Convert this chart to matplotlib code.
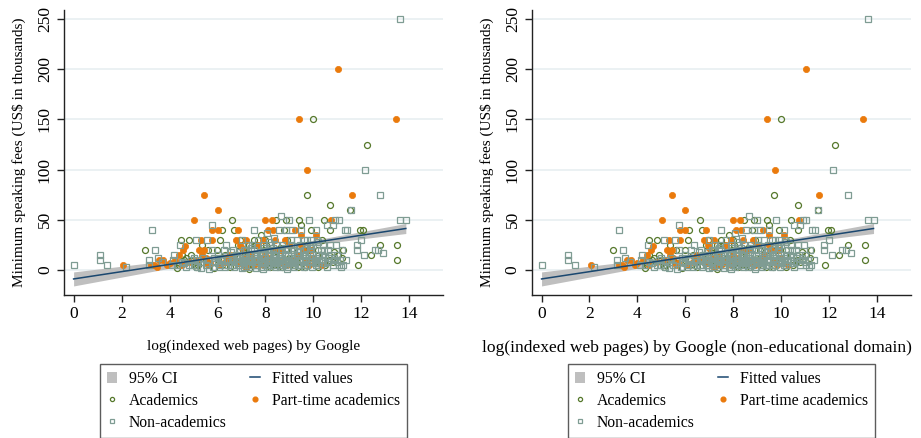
import numpy as np
import matplotlib
matplotlib.use("Agg")
import matplotlib.pyplot as plt
from matplotlib.lines import Line2D
from matplotlib.patches import Patch

plt.rcParams["font.family"] = ["Liberation Serif", "DejaVu Serif"]

# (log indexed pages, minimum fee in US$ thousands)
academics = [
    (2.99, 20), (4.3, 2), (4.48, 30), (4.5, 15), (4.6, 10), (4.8, 30), (4.9, 15), (5.05, 8),
    (5.2, 5), (5.37, 25), (5.5, 10), (5.6, 20), (5.87, 2), (5.98, 20), (6.1, 30), (6.17, 40),
    (6.3, 15), (6.45, 8), (6.6, 50), (6.69, 15), (6.7, 40), (6.85, 25), (6.95, 30), (7.0, 10),
    (7.08, 20), (7.15, 17), (7.25, 5), (7.33, 1), (7.4, 12), (7.5, 30), (7.6, 25), (7.7, 8),
    (7.8, 35), (7.85, 15), (8.0, 5), (8.04, 25), (8.1, 10), (8.2, 3), (8.3, 18), (8.45, 50),
    (8.5, 6), (8.6, 22), (8.79, 40), (8.86, 50), (8.9, 30), (9.0, 12), (9.1, 20), (9.2, 5),
    (9.3, 8), (9.4, 50), (9.5, 45), (9.55, 15), (9.65, 3), (9.71, 75), (9.75, 25), (9.86, 25),
    (9.89, 40), (10.0, 150), (10.1, 10), (10.2, 20), (10.35, 30), (10.42, 50), (10.5, 5),
    (10.64, 10), (10.7, 65), (10.7, 40), (10.85, 18), (11.04, 15), (11.25, 20), (11.53, 60),
    (11.84, 5), (11.95, 40), (12.06, 40), (12.25, 125), (12.39, 15), (12.78, 25), (13.5, 25),
    (13.5, 10),
    (4.4, 5), (4.7, 12), (5.1, 3), (5.6, 7), (6.0, 10), (6.2, 5), (6.5, 3), (6.8, 7),
    (7.0, 15), (7.2, 3), (7.3, 25), (7.55, 7), (7.75, 12), (7.95, 20), (8.0, 30), (8.15, 8),
    (8.35, 5), (8.55, 15), (8.7, 3), (8.95, 8), (9.1, 12), (9.35, 3), (9.5, 10), (9.7, 5),
    (9.8, 20), (9.95, 8), (10.2, 3), (10.4, 15), (10.8, 8), (11.2, 12),
]

part_time = [
    (2.07, 5), (3.23, 5), (3.37, 5), (3.46, 3), (3.57, 10), (3.74, 10), (3.88, 5), (4.0, 7),
    (4.23, 10), (4.4, 15), (4.55, 20), (4.66, 24), (5.03, 50), (5.24, 20), (5.31, 30), (5.35, 15),
    (5.45, 20), (5.45, 75), (5.5, 12), (5.6, 5), (5.77, 40), (5.79, 30), (6.0, 40), (6.0, 60),
    (6.3, 8), (6.5, 15), (6.6, 10), (6.77, 30), (6.87, 40), (6.95, 25), (7.0, 22), (7.1, 12),
    (7.19, 30), (7.3, 10), (7.5, 5), (7.7, 25), (7.91, 30), (7.98, 50), (8.0, 15), (8.12, 40),
    (8.27, 50), (8.33, 40), (8.4, 30), (8.5, 10), (8.6, 20), (8.82, 30), (8.9, 5), (9.0, 25),
    (9.24, 40), (9.3, 15), (9.4, 150), (9.49, 35), (9.5, 25), (9.58, 20), (9.72, 100), (9.82, 5),
    (9.9, 20), (10.11, 35), (10.73, 50), (11.04, 200), (11.59, 75), (13.43, 150),
    (4.5, 5), (4.8, 8), (5.1, 10), (5.7, 7), (6.1, 5), (6.4, 12), (6.9, 7), (7.2, 3),
    (7.4, 15), (7.6, 8), (7.9, 5), (8.2, 12), (8.45, 20), (8.7, 8), (9.1, 10), (9.7, 8),
    (10.0, 12), (10.3, 5),
]

non_academics = [
    (0.0, 5), (1.1, 15), (1.1, 10), (1.4, 5), (2.2, 3), (3.15, 10), (3.15, 5), (3.25, 40),
    (3.4, 20), (3.5, 12), (3.7, 8), (4.1, 5), (4.15, 10), (4.2, 15), (4.45, 25), (4.6, 7),
    (4.7, 3), (4.9, 10), (5.0, 5), (5.1, 30), (5.2, 10), (5.3, 2), (5.4, 12), (5.5, 5),
    (5.55, 30), (5.65, 1), (5.75, 45), (5.75, 20), (5.85, 12), (5.9, 8), (6.0, 15), (6.05, 3),
    (6.1, 5), (6.2, 10), (6.25, 20), (6.35, 25), (6.4, 10), (6.45, 5), (6.55, 18), (6.6, 5),
    (6.65, 20), (6.7, 10), (6.75, 15), (6.8, 8), (6.85, 5), (6.9, 12), (6.95, 18), (7.0, 30),
    (7.0, 2), (7.05, 8), (7.1, 3), (7.15, 12), (7.2, 20), (7.2, 15), (7.25, 25), (7.3, 5),
    (7.35, 10), (7.4, 15), (7.45, 25), (7.5, 40), (7.5, 20), (7.55, 10), (7.6, 2), (7.6, 5),
    (7.65, 12), (7.7, 30), (7.75, 18), (7.8, 8), (7.85, 15), (7.9, 1), (7.9, 25), (7.95, 22),
    (8.0, 12), (8.0, 5), (8.05, 37), (8.05, 10), (8.1, 5), (8.1, 20), (8.15, 28), (8.2, 15),
    (8.2, 25), (8.25, 20), (8.3, 8), (8.3, 12), (8.35, 32), (8.4, 3), (8.4, 20), (8.45, 12),
    (8.5, 25), (8.5, 5), (8.55, 40), (8.6, 7), (8.6, 15), (8.65, 54), (8.7, 18), (8.7, 10),
    (8.75, 10), (8.8, 22), (8.8, 5), (8.85, 40), (8.9, 1), (8.9, 20), (8.95, 15), (9.0, 50),
    (9.0, 10), (9.05, 30), (9.05, 25), (9.1, 40), (9.1, 8), (9.15, 5), (9.2, 20), (9.25, 12),
    (9.3, 30), (9.3, 18), (9.35, 5), (9.4, 10), (9.45, 25), (9.5, 40), (9.5, 5), (9.55, 15),
    (9.6, 30), (9.6, 20), (9.65, 10), (9.7, 22), (9.7, 12), (9.75, 30), (9.8, 50), (9.8, 8),
    (9.85, 18), (9.9, 30), (9.9, 22), (9.95, 12), (10.0, 25), (10.0, 15), (10.05, 7),
    (10.1, 40), (10.1, 5), (10.15, 30), (10.2, 15), (10.2, 28), (10.3, 20), (10.3, 10),
    (10.4, 10), (10.45, 20), (10.5, 13), (10.55, 45), (10.6, 20), (10.6, 8), (10.7, 25),
    (10.75, 15), (10.8, 45), (10.85, 12), (10.9, 50), (10.95, 25), (11.0, 15), (11.05, 50),
    (11.05, 5), (11.1, 10), (11.2, 20), (11.25, 5), (11.3, 40), (11.35, 10), (11.4, 40),
    (11.55, 60), (11.8, 25), (11.8, 20), (12.0, 30), (12.1, 15), (12.15, 100), (12.55, 20),
    (12.7, 20), (12.78, 75), (12.9, 17), (13.6, 250), (13.6, 50), (13.85, 50),
    (4.3, 5), (4.5, 8), (4.8, 5), (5.0, 12), (5.15, 3), (5.3, 8), (5.6, 10), (5.8, 3),
    (6.0, 7), (6.15, 12), (6.3, 3), (6.5, 8), (6.6, 12), (6.7, 3), (6.8, 15), (6.9, 5),
    (7.0, 10), (7.05, 15), (7.1, 7), (7.1, 20), (7.2, 5), (7.3, 12), (7.35, 3), (7.4, 22),
    (7.45, 8), (7.5, 12), (7.55, 15), (7.65, 5), (7.7, 10), (7.8, 3), (7.85, 7), (7.9, 18),
    (7.95, 12), (8.0, 8), (8.05, 3), (8.1, 15), (8.15, 7), (8.2, 10), (8.25, 5), (8.3, 22),
    (8.35, 10), (8.4, 15), (8.45, 7), (8.55, 10), (8.6, 3), (8.65, 12), (8.7, 25), (8.75, 5),
    (8.8, 15), (8.85, 8), (8.95, 3), (9.0, 7), (9.05, 12), (9.15, 10), (9.15, 22), (9.2, 3),
    (9.25, 7), (9.35, 15), (9.4, 5), (9.45, 10), (9.45, 18), (9.55, 8), (9.6, 3), (9.65, 15),
    (9.75, 5), (9.8, 12), (9.85, 25), (9.9, 8), (9.95, 3), (10.05, 10), (10.1, 12), (10.2, 5),
    (10.25, 8), (10.35, 15), (10.4, 25), (10.5, 7), (10.55, 3), (10.65, 12), (10.8, 5),
    (10.9, 10), (11.0, 8), (11.15, 3),
]

# linear fit on the full sample and its 95% band (half-widths at x=0 and at the mean)
fit_intercept = -9.0
fit_slope = 3.63
fit_x_mean = 8.2
ci_half_at_mean = 1.8
ci_half_at_zero = 7.0

x_labels = [
    "log(indexed web pages) by Google",
    "log(indexed web pages) by Google (non-educational domain)",
]
x_label_sizes = [11, 12.6]
x_label_centers = [0.5, 0.436]
y_label = "Minimum speaking fees (US$ in thousands)"
x_ticks = [0, 2, 4, 6, 8, 10, 12, 14]
y_ticks = [0, 50, 100, 150, 200, 250]

c_acad = "#55782b"
c_part = "#ea7a0c"
c_non = "#7f9c93"
c_fit = "#1a476f"
c_ci = "#bfbfbf"
c_grid = "#e6eef0"


def fit_band(xs):
    yhat = fit_intercept + fit_slope * xs
    k = (ci_half_at_zero ** 2 - ci_half_at_mean ** 2) / fit_x_mean ** 2
    half = np.sqrt(ci_half_at_mean ** 2 + k * (xs - fit_x_mean) ** 2)
    return yhat, yhat - half, yhat + half


def draw_panel(ax, i):
    a = np.array(academics, dtype=float)
    p = np.array(part_time, dtype=float)
    q = np.array(non_academics, dtype=float)
    allx = np.concatenate([a[:, 0], p[:, 0], q[:, 0]])
    xs = np.linspace(allx.min(), allx.max(), 100)
    yhat, lo, hi = fit_band(xs)

    for t in y_ticks:
        ax.axhline(t, color=c_grid, lw=1.1, zorder=0)
    ax.fill_between(xs, lo, hi, color=c_ci, lw=0, zorder=1)
    ax.plot(a[:, 0], a[:, 1], "o", ms=4.3, mfc="none", mec=c_acad, mew=0.9, zorder=2)
    ax.plot(p[:, 0], p[:, 1], "o", ms=4.5, mfc=c_part, mec=c_part, mew=0.5, zorder=2)
    ax.plot(q[:, 0], q[:, 1], "s", ms=5.0, mfc="none", mec=c_non, mew=0.9, zorder=2)
    ax.plot(xs, yhat, color=c_fit, lw=1.1, zorder=3)

    ax.set_xlim(-0.4, 15.4)
    ax.set_ylim(-25, 259)
    ax.set_xticks(x_ticks)
    ax.set_yticks(y_ticks)
    for side in ("top", "right"):
        ax.spines[side].set_visible(False)
    for side in ("left", "bottom"):
        ax.spines[side].set_linewidth(1.0)
        ax.spines[side].set_color("#222222")
    ax.tick_params(axis="both", length=5, width=1.0, color="#222222", labelsize=12.5, pad=3)
    for tl in ax.get_yticklabels():
        tl.set_rotation(90)
        tl.set_va("center")
    ax.set_xlabel(x_labels[i], fontsize=x_label_sizes[i])
    ax.xaxis.set_label_coords(x_label_centers[i], -0.158)
    ax.set_ylabel(y_label, fontsize=11, labelpad=8)

    handles = [
        Patch(facecolor=c_ci, edgecolor="none"),
        Line2D([], [], ls="none", marker="o", ms=3, mfc="none", mec=c_acad, mew=0.9),
        Line2D([], [], ls="none", marker="s", ms=3, mfc="none", mec=c_non, mew=0.9),
        Line2D([], [], color=c_fit, lw=1.1),
        Line2D([], [], ls="none", marker="o", ms=3.4, mfc=c_part, mec=c_part),
    ]
    labels = ["95% CI", "Academics", "Non-academics", "Fitted values", "Part-time academics"]
    leg = ax.legend(handles, labels, ncol=2, loc="upper center", bbox_to_anchor=(0.5, -0.242),
                    frameon=True, fancybox=False, fontsize=11.3, handlelength=0.65,
                    handleheight=0.75, handletextpad=0.75, columnspacing=1.5,
                    labelspacing=0.38, borderpad=0.45, borderaxespad=0)
    leg.get_frame().set_edgecolor("#333333")
    leg.get_frame().set_linewidth(1.0)


fig = plt.figure(figsize=(9.21, 4.38), dpi=100)
ax1 = fig.add_axes([0.0695, 0.3265, 0.4115, 0.6505])
ax2 = fig.add_axes([0.5776, 0.3265, 0.4112, 0.6505])
draw_panel(ax1, 0)
draw_panel(ax2, 1)

fig.savefig("out.png", dpi=100)
